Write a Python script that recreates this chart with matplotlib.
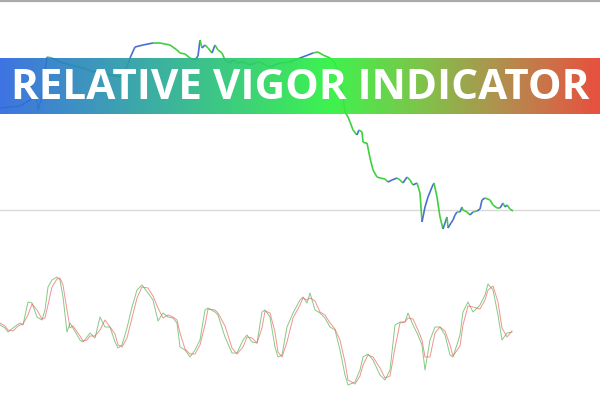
import numpy as np
import matplotlib
matplotlib.use("Agg")
import matplotlib.pyplot as plt
from matplotlib.collections import LineCollection
from matplotlib.colors import LinearSegmentedColormap

# precio (eje y invertido, unidades del grafico)
price_x = [0, 10, 20, 25, 33, 36, 38, 41, 44, 47,
           52, 60, 70, 83, 93, 100, 110, 120, 127, 130,
           135, 143, 153, 160, 170, 177, 180, 185, 190, 195,
           198, 200, 202, 205, 208, 212, 215, 218, 222, 225,
           230, 233, 238, 243, 250, 255, 260, 265, 270, 280,
           290, 300, 308, 313, 318, 323, 330, 335, 340, 343,
           345, 348, 350, 353, 357, 359, 362, 363, 365, 367,
           368, 370, 373, 377, 380, 385, 388, 392, 397, 400,
           403, 407, 410, 413, 417, 420, 422, 425, 428, 432,
           434, 437, 440, 443, 445, 447, 448, 451, 453, 455,
           457, 460, 462, 463, 467, 470, 473, 477, 480, 482,
           485, 490, 493, 497, 500, 503, 505, 507, 510, 513]
price_y = [108, 107, 106, 103, 98, 95, 110, 100, 80, 57,
           58, 62, 65, 68, 72, 70, 75, 77, 67, 58,
           47, 45, 43, 43, 45, 50, 53, 54, 58, 60,
           56, 40, 48, 45, 48, 53, 45, 50, 53, 60,
           63, 60, 63, 62, 65, 63, 62, 65, 67, 63,
           62, 58, 55, 53, 52, 55, 58, 63, 80, 97,
           112, 117, 122, 130, 135, 130, 132, 142, 143, 143,
           148, 158, 170, 177, 178, 179, 182, 180, 178, 180,
           183, 177, 180, 185, 183, 193, 222, 207, 197, 187,
           183, 197, 217, 229, 223, 217, 228, 223, 220, 215,
           212, 212, 207, 210, 212, 215, 212, 211, 209, 200,
           198, 200, 205, 208, 208, 203, 207, 205, 209, 211]

# oscilador RVI y su senal
osc_x = [0, 5, 8, 13, 17, 20, 23, 28, 32, 37,
         42, 45, 48, 52, 57, 60, 63, 67, 70, 73,
         80, 83, 87, 90, 95, 100, 105, 110, 115, 118,
         122, 127, 132, 137, 142, 148, 153, 158, 163, 168,
         173, 177, 180, 185, 190, 195, 200, 205, 208, 215,
         218, 225, 232, 237, 243, 247, 252, 257, 262, 265,
         270, 275, 278, 282, 287, 293, 300, 303, 307, 310,
         315, 320, 325, 330, 335, 340, 345, 348, 355, 360,
         363, 368, 373, 380, 385, 390, 395, 400, 405, 408,
         413, 418, 422, 425, 430, 435, 440, 445, 450, 453,
         460, 463, 468, 473, 480, 485, 488, 493, 498, 502,
         507, 512]
rvi = [325, 328, 332, 328, 325, 323, 325, 302, 303, 317,
       320, 310, 287, 280, 277, 280, 297, 332, 323, 328,
       340, 342, 337, 333, 338, 317, 327, 327, 342, 348,
       345, 328, 307, 290, 285, 293, 300, 321, 313, 317,
       318, 323, 347, 350, 357, 350, 340, 310, 308, 312,
       315, 337, 353, 353, 340, 335, 342, 343, 312, 310,
       317, 347, 357, 355, 327, 313, 300, 297, 303, 293,
       310, 313, 318, 327, 330, 350, 375, 385, 382, 370,
       357, 354, 360, 375, 380, 370, 325, 322, 322, 313,
       325, 335, 345, 370, 340, 327, 327, 335, 355, 357,
       335, 312, 302, 312, 305, 295, 284, 290, 315, 340,
       333, 332]
rvi_signal = [323, 326, 330, 331, 327, 325, 324, 315, 304, 310,
              319, 318, 305, 287, 279, 278, 285, 310, 328, 326,
              336, 341, 340, 336, 336, 330, 320, 327, 334, 345,
              347, 338, 318, 298, 287, 288, 296, 308, 318, 315,
              317, 320, 333, 349, 354, 354, 345, 325, 309, 310,
              313, 326, 348, 354, 347, 337, 338, 343, 328, 311,
              313, 332, 352, 357, 342, 318, 305, 298, 300, 298,
              301, 312, 315, 323, 329, 340, 362, 380, 384, 376,
              365, 355, 357, 368, 378, 376, 348, 323, 322, 318,
              319, 330, 340, 357, 357, 333, 327, 331, 345, 356,
              346, 325, 306, 307, 309, 300, 290, 286, 302, 328,
              337, 331]

title = "RELATIVE VIGOR INDICATOR"

fig = plt.figure(figsize=(6, 4), dpi=100)
ax = fig.add_axes([0, 0, 1, 1])
ax.set_xlim(0, 600)
ax.set_ylim(400, 0)
ax.axis("off")

# lineas grises de referencia
ax.axhline(0.8, color="#aaaaaa", lw=1.6, zorder=1)
ax.axhline(210, color="#d9d9d9", lw=1, zorder=1)

# precio: azul cuando sube, verde cuando baja
px = np.array(price_x, dtype=float)
py = np.array(price_y, dtype=float)
segs = np.stack([np.column_stack([px[:-1], py[:-1]]),
                 np.column_stack([px[1:], py[1:]])], axis=1)
cols = ["#4a6fd0" if py[i + 1] < py[i] - 1 else "#3fcf3f" for i in range(len(px) - 1)]
ax.add_collection(LineCollection(segs, colors=cols, linewidths=1.2, zorder=2))

# oscilador
ax.plot(osc_x, rvi, color="#5cb85c", lw=0.7, alpha=0.75, zorder=2)
ax.plot(osc_x, rvi_signal, color="#ee6464", lw=0.7, alpha=0.7, zorder=2)

# banda con degradado
cmap = LinearSegmentedColormap.from_list("banda", [
    (0.0, "#2d68e0"),
    (0.25, "#2aa69c"),
    (0.55, "#2cf23f"),
    (0.70, "#72c03a"),
    (0.85, "#b0803e"),
    (1.0, "#e6412e"),
])
grad = np.linspace(0, 1, 600).reshape(1, -1)
ax.imshow(grad, cmap=cmap, extent=(0, 600, 114, 58), aspect="auto",
          alpha=0.92, zorder=3, interpolation="bilinear")

txt = ax.text(300, 99, title, color="white", fontsize=30, fontweight="bold",
              family="Open Sans", ha="center", va="baseline", zorder=4)
fig.canvas.draw()
w = txt.get_window_extent().width
txt.set_fontsize(30 * 578 / w)

fig.savefig("out.png", dpi=100)
